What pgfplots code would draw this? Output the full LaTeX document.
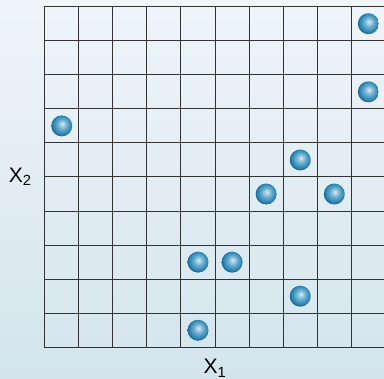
\documentclass[border=0pt]{standalone}
\usepackage{pgfplots}
\pgfplotsset{compat=1.18}
\usepackage{fontspec}
\setmainfont{Liberation Sans}
\definecolor{bgtop}{RGB}{239,245,249}
\definecolor{bgbot}{RGB}{212,228,237}
\pgfdeclareradialshading{myballshade}{\pgfqpoint{1.5bp}{5bp}}{%
  color(0bp)=(rgb,255:red,215;green,235;blue,244);
  color(11bp)=(rgb,255:red,110;green,175;blue,208);
  color(21bp)=(rgb,255:red,48;green,136;blue,180);
  color(26bp)=(rgb,255:red,28;green,106;blue,150);
  color(50bp)=(rgb,255:red,28;green,106;blue,150)}
\pgfdeclareplotmark{myball}{%
  \pgfpathcircle{\pgfpointorigin}{\pgfplotmarksize}%
  \pgfshadepath{myballshade}{0}%
  \pgfusepath{discard}}
\begin{document}
\begin{tikzpicture}
\useasboundingbox (0,0) rectangle (384pt,379pt);
\clip (0,0) rectangle (384pt,379pt);
\fill[top color=bgtop, bottom color=bgbot] (0,0) rectangle (384pt,379pt);
\begin{axis}[
  at={(44.7pt,31.7pt)}, anchor=south west,
  scale only axis, width=340.7pt, height=340.6pt,
  xmin=0, xmax=10, ymin=0, ymax=10,
  xtick={0,...,10}, ytick={0,...,10},
  xticklabels={}, yticklabels={},
  major tick length=0pt,
  grid=major,
  grid style={black!80, line width=1pt},
  axis line style={black!80, line width=1pt},
  clip=false,
  font=\fontsize{21}{25}\selectfont,
  xlabel={X\textsubscript{1}},
  ylabel={X\textsubscript{2}},
  every axis x label/.style={at={(axis description cs:0.5,0)}, anchor=north, inner sep=0pt, yshift=-12pt},
  every axis y label/.style={at={(axis description cs:0,0.5)}, anchor=east, inner sep=0pt, xshift=-13pt},
]
\addplot[only marks, mark=myball, mark size=10.5pt] table {
x y
4.5 0.5
7.5 1.5
4.5 2.5
5.5 2.5
6.5 4.5
8.5 4.5
7.5 5.5
0.5 6.5
9.5 7.5
9.5 9.5
};
\end{axis}
\end{tikzpicture}
\end{document}
